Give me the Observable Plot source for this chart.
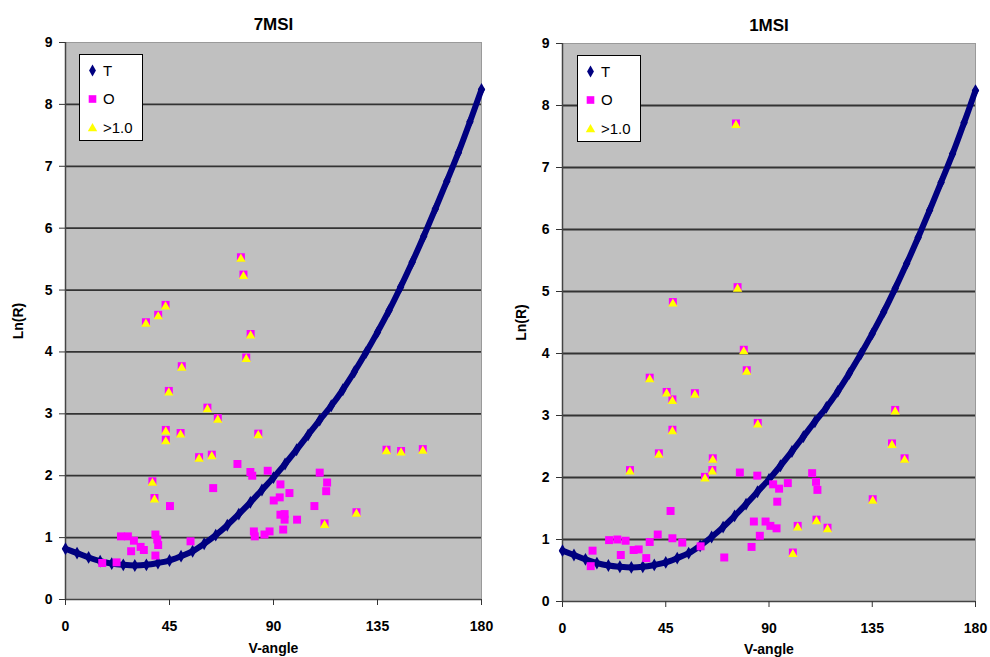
<!DOCTYPE html>
<html><head><meta charset="utf-8">
<script src="https://cdn.jsdelivr.net/npm/d3@7"></script>
<script src="https://cdn.jsdelivr.net/npm/@observablehq/plot@0.6"></script>
<style>
body{margin:0;background:#fff;font-family:"Liberation Sans",Arial,sans-serif}
#wrap{position:relative;width:990px;height:657px;display:flex;overflow:hidden}
.panel{position:relative;width:495px;height:657px}
.legend{position:absolute}
</style></head>
<body><div id="wrap"><div class="panel" id="p1"></div><div class="panel" id="p2"></div></div>
<script>
// Theoretical curve T (same in both panels)
const tAngle = [0,5,10,15,20,25,30,35,40,45,50,55,60,65,70,75,80,85,90,95,100,105,110,115,120,125,130,135,140,145,150,155,160,165,170,175,180];
const tLnR   = [0.82,0.75,0.68,0.62,0.58,0.56,0.55,0.56,0.59,0.63,0.70,0.78,0.90,1.04,1.20,1.38,1.57,1.77,1.97,2.19,2.42,2.66,2.90,3.13,3.39,3.68,3.99,4.32,4.67,5.05,5.45,5.87,6.31,6.76,7.22,7.72,8.24];

// 7MSI observations (O only)
const leftOAngle = [15.9,22.1,24.0,27.0,29.6,28.4,32.5,33.9,38.9,39.7,40.1,38.9,45.2,54.1,63.9,74.4,80.0,80.8,87.5,110.0,113.2,112.8,93.0,96.9,92.7,90.1,107.7,93.0,94.8,94.8,100.2,94.2,81.5,81.9,86.1,88.3];
const leftOLnR   = [0.59,0.60,1.02,1.02,0.95,0.78,0.85,0.80,1.05,0.97,0.88,0.71,1.51,0.94,1.80,2.19,2.06,2.00,2.08,2.05,1.89,1.75,1.86,1.72,1.65,1.60,1.51,1.37,1.38,1.29,1.29,1.13,1.10,1.02,1.05,1.10];
// 7MSI observations flagged >1.0
const leftGAngle = [75.9,77.0,43.3,40.1,34.8,80.1,78.2,50.3,44.7,61.4,65.9,43.4,43.4,49.8,83.4,57.8,63.3,138.9,145.2,154.6,37.6,38.5,125.9,112.1];
const leftGLnR   = [5.53,5.25,4.76,4.60,4.48,4.29,3.91,3.77,3.37,3.10,2.93,2.74,2.58,2.69,2.68,2.30,2.34,2.42,2.40,2.43,1.91,1.64,1.41,1.23];

// 1MSI observations (O only)
const rightOAngle = [12.3,13.1,20.3,23.9,27.5,25.4,31.0,33.2,36.5,38.0,41.5,47.1,47.9,52.2,60.2,70.5,77.3,84.9,108.8,91.8,94.4,98.2,110.5,111.1,93.6,83.4,88.5,90.6,93.3,86.0,82.4];
const rightOLnR   = [0.57,0.82,0.99,1.00,0.98,0.75,0.83,0.84,0.70,0.96,1.08,1.46,1.02,0.95,0.89,0.71,2.08,2.03,2.07,1.89,1.82,1.91,1.93,1.80,1.61,1.29,1.29,1.22,1.18,1.06,0.88];
// 1MSI observations flagged >1.0
const rightGAngle = [75.6,76.3,48.1,79.0,80.3,38.0,45.4,47.9,57.7,47.9,42.0,29.4,65.5,65.3,62.1,85.1,145.0,143.6,149.1,135.2,102.5,110.7,115.5,100.4];
const rightGLnR   = [7.71,5.07,4.83,4.06,3.73,3.61,3.38,3.26,3.36,2.77,2.39,2.12,2.31,2.12,2.01,2.88,3.09,2.55,2.31,1.65,1.22,1.32,1.19,0.79];

const xTicks = [0,45,90,135,180];
const yTicks = [0,1,2,3,4,5,6,7,8,9];
const gridLines = [1,2,3,4,5,6,7,8];
const legendLabels = ["T","O",">1.0"];
const titles = ["7MSI","1MSI"];

const NAVY = "#000080", MAG = "#ff00ff", YEL = "#ffff00";
const T = tAngle.map((a,i)=>({a, v:tLnR[i]}));

function chart(title, oA, oV, gA, gV, m) {
  const G = gA.map((a,i)=>({a, v:gV[i]}));
  const O = oA.map((a,i)=>({a, v:oV[i]})).concat(G);
  return Plot.plot({
    width:495, height:657,
    marginLeft:m.l, marginRight:m.r, marginTop:m.t, marginBottom:m.b,
    style:{fontFamily:"'Liberation Sans', Arial, sans-serif", fontSize:"15px", fontWeight:"bold", color:"#000", background:"transparent"},
    x:{domain:[0,180]},
    y:{domain:[0,9]},
    marks:[
      Plot.frame({fill:"#c0c0c0", stroke:"#9a9a9a"}),
      Plot.ruleY(gridLines, {stroke:"#333", strokeWidth:1.8}),
      Plot.ruleX([0], {stroke:"#444", strokeWidth:1.5}),
      Plot.ruleY([0], {stroke:"#444", strokeWidth:1.5}),
      Plot.axisY({ticks:yTicks, tickSize:6, tickPadding:7, stroke:"#333", label:"Ln(R)", labelAnchor:"center", labelOffset:m.lo, labelArrow:"none", fontSize:14}),
      Plot.axisX({ticks:xTicks, tickSize:6, tickPadding:16, stroke:"#333", label:"V-angle", labelAnchor:"center", labelOffset:m.bo, labelArrow:"none", fontSize:14}),
      Plot.line(T, {x:"a", y:"v", stroke:NAVY, strokeWidth:6, curve:"catmull-rom"}),
      Plot.dot(T, {x:"a", y:"v", symbol:"diamond", r:3.9, fill:NAVY}),
      Plot.dot(O, {x:"a", y:"v", symbol:"square", r:4.5, fill:MAG}),
      Plot.dot(G, {x:"a", y:"v", symbol:"triangle", r:3.5, fill:YEL, dy:1.8}),
      Plot.text([title], {frameAnchor:"top", dy:-25, fontSize:17, fontWeight:"bold"})
    ]
  });
}

function legend(left, top, w, h) {
  const svg = d3.create("svg").attr("class","legend").attr("width", w).attr("height", h)
    .style("left", left+"px").style("top", top+"px");
  svg.append("rect").attr("x",0.5).attr("y",0.5).attr("width",w-1).attr("height",h-1).attr("fill","#fff").attr("stroke","#000");
  const sym = [
    {s:d3.symbolDiamond, size:Math.PI*3.6*3.6, c:NAVY},
    {s:d3.symbolSquare, size:Math.PI*4.3*4.3, c:MAG},
    {s:d3.symbolTriangle, size:Math.PI*3.5*3.5, c:YEL}
  ];
  legendLabels.forEach((lab,i)=>{
    const y = 16.5 + i*28.5;
    svg.append("path").attr("d", d3.symbol(sym[i].s, sym[i].size)()).attr("fill", sym[i].c)
      .attr("transform", `translate(13.5,${y + (i===2?1:0)})`);
    svg.append("text").attr("x",24).attr("y",y).attr("dy","0.36em").attr("font-size",15)
      .attr("font-family","'Liberation Sans', Arial, sans-serif").text(lab);
  });
  return svg.node();
}

const p1 = document.getElementById("p1"), p2 = document.getElementById("p2");
p1.append(chart(titles[0], leftOAngle, leftOLnR, leftGAngle, leftGLnR, {l:65, r:14, t:42, b:58, lo:52, bo:53}));
p1.append(legend(79, 54, 64, 87));
p2.append(chart(titles[1], rightOAngle, rightOLnR, rightGAngle, rightGLnR, {l:67, r:15, t:43, b:56, lo:46, bo:52}));
p2.append(legend(82, 55, 64, 87));
</script></body></html>
